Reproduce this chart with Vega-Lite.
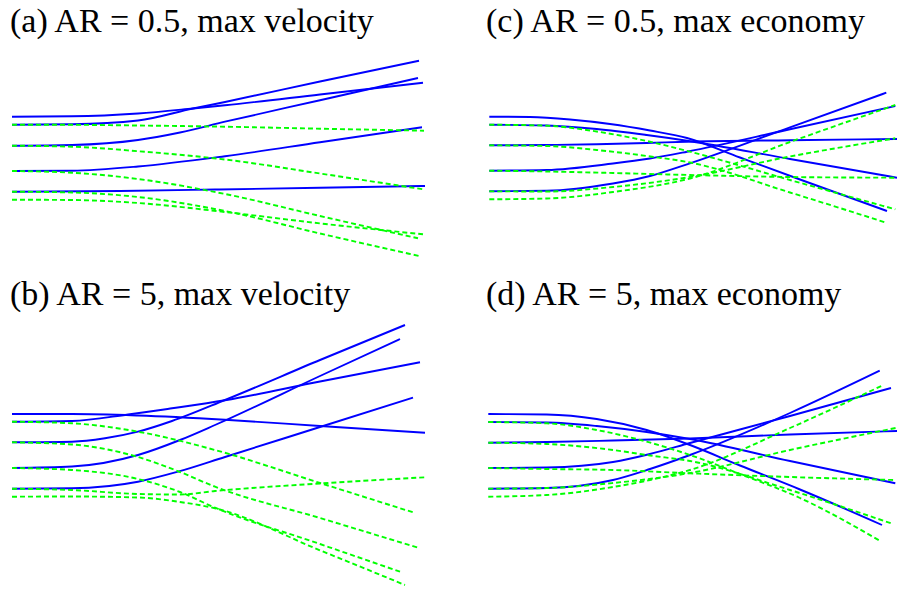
{
"$schema": "https://vega.github.io/schema/vega-lite/v6.json",
"padding": {"left": 8, "top": 5, "right": 0, "bottom": 0},
"background": "white",
"config": {"view": {"stroke": null}, "title": {"font": "Liberation Serif", "fontSize": 34, "fontWeight": "normal", "anchor": "start", "color": "black", "offset": 6, "dx": 2}},
"datasets": {"pts": [
{"p":"a","k":"b","s":"1","x":12,"y":116.7},{"p":"a","k":"b","s":"1","x":72,"y":116.3},{"p":"a","k":"b","s":"1","x":138,"y":113.5},{"p":"a","k":"b","s":"1","x":193,"y":108.5},{"p":"a","k":"b","s":"1","x":225,"y":105.3},{"p":"a","k":"b","s":"1","x":320,"y":94.5},{"p":"a","k":"b","s":"1","x":423,"y":82.7},
{"p":"a","k":"b","s":"2","x":12,"y":124.7},{"p":"a","k":"b","s":"2","x":72,"y":124.3},{"p":"a","k":"b","s":"2","x":138,"y":120.5},{"p":"a","k":"b","s":"2","x":193,"y":108.5},{"p":"a","k":"b","s":"2","x":225,"y":102},{"p":"a","k":"b","s":"2","x":320,"y":81.5},{"p":"a","k":"b","s":"2","x":419,"y":60.7},
{"p":"a","k":"b","s":"3","x":12,"y":145.7},{"p":"a","k":"b","s":"3","x":72,"y":145},{"p":"a","k":"b","s":"3","x":138,"y":140},{"p":"a","k":"b","s":"3","x":180,"y":132.5},{"p":"a","k":"b","s":"3","x":225,"y":121.7},{"p":"a","k":"b","s":"3","x":320,"y":100.2},{"p":"a","k":"b","s":"3","x":418,"y":78},
{"p":"a","k":"b","s":"4","x":12,"y":171},{"p":"a","k":"b","s":"4","x":72,"y":170.7},{"p":"a","k":"b","s":"4","x":138,"y":166.5},{"p":"a","k":"b","s":"4","x":225,"y":156.2},{"p":"a","k":"b","s":"4","x":320,"y":142.3},{"p":"a","k":"b","s":"4","x":422,"y":127.3},
{"p":"a","k":"b","s":"5","x":12,"y":191.7},{"p":"a","k":"b","s":"5","x":120,"y":191},{"p":"a","k":"b","s":"5","x":215,"y":189.5},{"p":"a","k":"b","s":"5","x":320,"y":187.8},{"p":"a","k":"b","s":"5","x":425,"y":186},
{"p":"a","k":"g","s":"1","x":12,"y":124.7},{"p":"a","k":"g","s":"1","x":72,"y":124.8},{"p":"a","k":"g","s":"1","x":138,"y":125.5},{"p":"a","k":"g","s":"1","x":225,"y":126.7},{"p":"a","k":"g","s":"1","x":320,"y":128.7},{"p":"a","k":"g","s":"1","x":424,"y":130.7},
{"p":"a","k":"g","s":"2","x":12,"y":145.7},{"p":"a","k":"g","s":"2","x":72,"y":146.7},{"p":"a","k":"g","s":"2","x":138,"y":151.2},{"p":"a","k":"g","s":"2","x":225,"y":159.5},{"p":"a","k":"g","s":"2","x":320,"y":173.5},{"p":"a","k":"g","s":"2","x":423,"y":189.3},
{"p":"a","k":"g","s":"3","x":12,"y":171},{"p":"a","k":"g","s":"3","x":72,"y":172.7},{"p":"a","k":"g","s":"3","x":138,"y":179},{"p":"a","k":"g","s":"3","x":225,"y":194},{"p":"a","k":"g","s":"3","x":320,"y":216},{"p":"a","k":"g","s":"3","x":418,"y":238.3},
{"p":"a","k":"g","s":"4","x":12,"y":191.7},{"p":"a","k":"g","s":"4","x":72,"y":192.5},{"p":"a","k":"g","s":"4","x":138,"y":197},{"p":"a","k":"g","s":"4","x":225,"y":211},{"p":"a","k":"g","s":"4","x":320,"y":233.5},{"p":"a","k":"g","s":"4","x":419,"y":256},
{"p":"a","k":"g","s":"5","x":12,"y":199.7},{"p":"a","k":"g","s":"5","x":72,"y":200},{"p":"a","k":"g","s":"5","x":138,"y":203},{"p":"a","k":"g","s":"5","x":225,"y":212},{"p":"a","k":"g","s":"5","x":320,"y":223.4},{"p":"a","k":"g","s":"5","x":423,"y":234.3},
{"p":"b","k":"b","s":"1","x":12,"y":414},{"p":"b","k":"b","s":"1","x":72,"y":414},{"p":"b","k":"b","s":"1","x":138,"y":415.5},{"p":"b","k":"b","s":"1","x":225,"y":419.7},{"p":"b","k":"b","s":"1","x":320,"y":426},{"p":"b","k":"b","s":"1","x":425,"y":432.7},
{"p":"b","k":"b","s":"2","x":12,"y":421.7},{"p":"b","k":"b","s":"2","x":72,"y":421},{"p":"b","k":"b","s":"2","x":128,"y":414.5},{"p":"b","k":"b","s":"2","x":172,"y":408.3},{"p":"b","k":"b","s":"2","x":225,"y":400.3},{"p":"b","k":"b","s":"2","x":320,"y":381.5},{"p":"b","k":"b","s":"2","x":420,"y":362.3},
{"p":"b","k":"b","s":"3","x":12,"y":442.3},{"p":"b","k":"b","s":"3","x":72,"y":441.7},{"p":"b","k":"b","s":"3","x":105,"y":438.3},{"p":"b","k":"b","s":"3","x":138,"y":431.7},{"p":"b","k":"b","s":"3","x":172,"y":421},{"p":"b","k":"b","s":"3","x":225,"y":400},{"p":"b","k":"b","s":"3","x":320,"y":360},{"p":"b","k":"b","s":"3","x":405,"y":325},
{"p":"b","k":"b","s":"4","x":12,"y":468},{"p":"b","k":"b","s":"4","x":72,"y":466.5},{"p":"b","k":"b","s":"4","x":138,"y":455},{"p":"b","k":"b","s":"4","x":180,"y":440},{"p":"b","k":"b","s":"4","x":215,"y":425},{"p":"b","k":"b","s":"4","x":320,"y":376},{"p":"b","k":"b","s":"4","x":400,"y":339},
{"p":"b","k":"b","s":"5","x":12,"y":488.7},{"p":"b","k":"b","s":"5","x":72,"y":488.3},{"p":"b","k":"b","s":"5","x":138,"y":481.7},{"p":"b","k":"b","s":"5","x":178,"y":471.7},{"p":"b","k":"b","s":"5","x":225,"y":457},{"p":"b","k":"b","s":"5","x":320,"y":427},{"p":"b","k":"b","s":"5","x":413,"y":397.7},
{"p":"b","k":"g","s":"1","x":12,"y":421.7},{"p":"b","k":"g","s":"1","x":72,"y":423.3},{"p":"b","k":"g","s":"1","x":138,"y":431.7},{"p":"b","k":"g","s":"1","x":215,"y":450},{"p":"b","k":"g","s":"1","x":320,"y":483},{"p":"b","k":"g","s":"1","x":413,"y":512.3},
{"p":"b","k":"g","s":"2","x":12,"y":442.3},{"p":"b","k":"g","s":"2","x":72,"y":444.5},{"p":"b","k":"g","s":"2","x":138,"y":457},{"p":"b","k":"g","s":"2","x":180,"y":472},{"p":"b","k":"g","s":"2","x":215,"y":486.7},{"p":"b","k":"g","s":"2","x":320,"y":518},{"p":"b","k":"g","s":"2","x":420,"y":548.3},
{"p":"b","k":"g","s":"3","x":12,"y":468},{"p":"b","k":"g","s":"3","x":72,"y":470},{"p":"b","k":"g","s":"3","x":138,"y":479},{"p":"b","k":"g","s":"3","x":180,"y":492},{"p":"b","k":"g","s":"3","x":215,"y":507.7},{"p":"b","k":"g","s":"3","x":320,"y":544},{"p":"b","k":"g","s":"3","x":400,"y":571.7},
{"p":"b","k":"g","s":"4","x":12,"y":488.7},{"p":"b","k":"g","s":"4","x":72,"y":490},{"p":"b","k":"g","s":"4","x":138,"y":494},{"p":"b","k":"g","s":"4","x":180,"y":494.5},{"p":"b","k":"g","s":"4","x":215,"y":491},{"p":"b","k":"g","s":"4","x":320,"y":483.5},{"p":"b","k":"g","s":"4","x":425,"y":477.3},
{"p":"b","k":"g","s":"5","x":12,"y":496.7},{"p":"b","k":"g","s":"5","x":72,"y":496.5},{"p":"b","k":"g","s":"5","x":138,"y":497.5},{"p":"b","k":"g","s":"5","x":180,"y":502},{"p":"b","k":"g","s":"5","x":215,"y":508.3},{"p":"b","k":"g","s":"5","x":320,"y":550.3},{"p":"b","k":"g","s":"5","x":405,"y":585},
{"p":"c","k":"b","s":"1","x":489.3,"y":116.7},{"p":"c","k":"b","s":"1","x":530,"y":117},{"p":"c","k":"b","s":"1","x":570,"y":119.5},{"p":"c","k":"b","s":"1","x":610,"y":124},{"p":"c","k":"b","s":"1","x":650,"y":130.5},{"p":"c","k":"b","s":"1","x":687,"y":138},{"p":"c","k":"b","s":"1","x":740,"y":157.5},{"p":"c","k":"b","s":"1","x":800,"y":179.5},{"p":"c","k":"b","s":"1","x":887,"y":211},
{"p":"c","k":"b","s":"2","x":489.3,"y":124.7},{"p":"c","k":"b","s":"2","x":546.7,"y":125.5},{"p":"c","k":"b","s":"2","x":596.7,"y":129},{"p":"c","k":"b","s":"2","x":646.7,"y":135},{"p":"c","k":"b","s":"2","x":687,"y":140.7},{"p":"c","k":"b","s":"2","x":790,"y":159},{"p":"c","k":"b","s":"2","x":897,"y":177.7},
{"p":"c","k":"b","s":"3","x":489.3,"y":145.3},{"p":"c","k":"b","s":"3","x":546.7,"y":145},{"p":"c","k":"b","s":"3","x":596.7,"y":144.3},{"p":"c","k":"b","s":"3","x":646.7,"y":143},{"p":"c","k":"b","s":"3","x":687,"y":141.7},{"p":"c","k":"b","s":"3","x":790,"y":140.2},{"p":"c","k":"b","s":"3","x":897,"y":139},
{"p":"c","k":"b","s":"4","x":489.3,"y":170.7},{"p":"c","k":"b","s":"4","x":546.7,"y":170},{"p":"c","k":"b","s":"4","x":613,"y":163.5},{"p":"c","k":"b","s":"4","x":650,"y":158.5},{"p":"c","k":"b","s":"4","x":687,"y":151.7},{"p":"c","k":"b","s":"4","x":790,"y":129.2},{"p":"c","k":"b","s":"4","x":895.3,"y":106},
{"p":"c","k":"b","s":"5","x":489.3,"y":191.3},{"p":"c","k":"b","s":"5","x":546.7,"y":190.8},{"p":"c","k":"b","s":"5","x":613,"y":183.5},{"p":"c","k":"b","s":"5","x":650,"y":176},{"p":"c","k":"b","s":"5","x":687,"y":164.3},{"p":"c","k":"b","s":"5","x":790,"y":127.3},{"p":"c","k":"b","s":"5","x":886.3,"y":92.7},
{"p":"c","k":"g","s":"1","x":489.3,"y":124.7},{"p":"c","k":"g","s":"1","x":546.7,"y":125.7},{"p":"c","k":"g","s":"1","x":596.7,"y":131.5},{"p":"c","k":"g","s":"1","x":646.7,"y":141},{"p":"c","k":"g","s":"1","x":690,"y":151.7},{"p":"c","k":"g","s":"1","x":790,"y":180},{"p":"c","k":"g","s":"1","x":895.3,"y":209.3},
{"p":"c","k":"g","s":"2","x":489.3,"y":145.3},{"p":"c","k":"g","s":"2","x":546.7,"y":146},{"p":"c","k":"g","s":"2","x":596.7,"y":150},{"p":"c","k":"g","s":"2","x":646.7,"y":156},{"p":"c","k":"g","s":"2","x":690,"y":162.5},{"p":"c","k":"g","s":"2","x":790,"y":192.5},{"p":"c","k":"g","s":"2","x":886.3,"y":222.7},
{"p":"c","k":"g","s":"3","x":489.3,"y":170.7},{"p":"c","k":"g","s":"3","x":546.7,"y":171.5},{"p":"c","k":"g","s":"3","x":613,"y":173},{"p":"c","k":"g","s":"3","x":690,"y":175},{"p":"c","k":"g","s":"3","x":790,"y":177},{"p":"c","k":"g","s":"3","x":895.3,"y":177.7},
{"p":"c","k":"g","s":"4","x":489.3,"y":191.3},{"p":"c","k":"g","s":"4","x":546.7,"y":191.5},{"p":"c","k":"g","s":"4","x":613,"y":187},{"p":"c","k":"g","s":"4","x":690,"y":177},{"p":"c","k":"g","s":"4","x":790,"y":156.5},{"p":"c","k":"g","s":"4","x":895.3,"y":138.3},
{"p":"c","k":"g","s":"5","x":489.3,"y":199.3},{"p":"c","k":"g","s":"5","x":546.7,"y":198.5},{"p":"c","k":"g","s":"5","x":613,"y":192},{"p":"c","k":"g","s":"5","x":690,"y":178.5},{"p":"c","k":"g","s":"5","x":790,"y":142},{"p":"c","k":"g","s":"5","x":895.3,"y":105},
{"p":"d","k":"b","s":"1","x":488.3,"y":414},{"p":"d","k":"b","s":"1","x":546.7,"y":414.5},{"p":"d","k":"b","s":"1","x":596.7,"y":419},{"p":"d","k":"b","s":"1","x":646.7,"y":430},{"p":"d","k":"b","s":"1","x":690,"y":445},{"p":"d","k":"b","s":"1","x":740,"y":465.5},{"p":"d","k":"b","s":"1","x":800,"y":489.5},{"p":"d","k":"b","s":"1","x":882,"y":525},
{"p":"d","k":"b","s":"2","x":488.3,"y":422},{"p":"d","k":"b","s":"2","x":546.7,"y":422.5},{"p":"d","k":"b","s":"2","x":596.7,"y":426},{"p":"d","k":"b","s":"2","x":646.7,"y":432},{"p":"d","k":"b","s":"2","x":690,"y":439},{"p":"d","k":"b","s":"2","x":790,"y":461},{"p":"d","k":"b","s":"2","x":895.3,"y":483.3},
{"p":"d","k":"b","s":"3","x":488.3,"y":442.7},{"p":"d","k":"b","s":"3","x":546.7,"y":442},{"p":"d","k":"b","s":"3","x":613,"y":440.5},{"p":"d","k":"b","s":"3","x":690,"y":438.5},{"p":"d","k":"b","s":"3","x":790,"y":434.5},{"p":"d","k":"b","s":"3","x":897,"y":431},
{"p":"d","k":"b","s":"4","x":488.3,"y":468},{"p":"d","k":"b","s":"4","x":546.7,"y":467.5},{"p":"d","k":"b","s":"4","x":613,"y":462},{"p":"d","k":"b","s":"4","x":650,"y":454},{"p":"d","k":"b","s":"4","x":690,"y":443},{"p":"d","k":"b","s":"4","x":790,"y":416},{"p":"d","k":"b","s":"4","x":891,"y":388},
{"p":"d","k":"b","s":"5","x":488.3,"y":488.7},{"p":"d","k":"b","s":"5","x":546.7,"y":488},{"p":"d","k":"b","s":"5","x":613,"y":480},{"p":"d","k":"b","s":"5","x":650,"y":469},{"p":"d","k":"b","s":"5","x":690,"y":455},{"p":"d","k":"b","s":"5","x":790,"y":413},{"p":"d","k":"b","s":"5","x":879.7,"y":370.7},
{"p":"d","k":"g","s":"1","x":488.3,"y":422},{"p":"d","k":"g","s":"1","x":546.7,"y":423.3},{"p":"d","k":"g","s":"1","x":596.7,"y":430},{"p":"d","k":"g","s":"1","x":646.7,"y":441.7},{"p":"d","k":"g","s":"1","x":690,"y":455},{"p":"d","k":"g","s":"1","x":740,"y":474},{"p":"d","k":"g","s":"1","x":800,"y":498},{"p":"d","k":"g","s":"1","x":879.7,"y":540.7},
{"p":"d","k":"g","s":"2","x":488.3,"y":442.7},{"p":"d","k":"g","s":"2","x":546.7,"y":444},{"p":"d","k":"g","s":"2","x":613,"y":450},{"p":"d","k":"g","s":"2","x":650,"y":455.5},{"p":"d","k":"g","s":"2","x":690,"y":461},{"p":"d","k":"g","s":"2","x":790,"y":490},{"p":"d","k":"g","s":"2","x":891,"y":523.3},
{"p":"d","k":"g","s":"3","x":488.3,"y":468},{"p":"d","k":"g","s":"3","x":546.7,"y":469},{"p":"d","k":"g","s":"3","x":613,"y":470},{"p":"d","k":"g","s":"3","x":690,"y":473.3},{"p":"d","k":"g","s":"3","x":790,"y":477},{"p":"d","k":"g","s":"3","x":893.7,"y":480},
{"p":"d","k":"g","s":"4","x":488.3,"y":488.7},{"p":"d","k":"g","s":"4","x":546.7,"y":488},{"p":"d","k":"g","s":"4","x":613,"y":483},{"p":"d","k":"g","s":"4","x":690,"y":473},{"p":"d","k":"g","s":"4","x":790,"y":450},{"p":"d","k":"g","s":"4","x":897,"y":427.7},
{"p":"d","k":"g","s":"5","x":488.3,"y":496.7},{"p":"d","k":"g","s":"5","x":546.7,"y":495},{"p":"d","k":"g","s":"5","x":613,"y":487},{"p":"d","k":"g","s":"5","x":650,"y":480},{"p":"d","k":"g","s":"5","x":690,"y":470},{"p":"d","k":"g","s":"5","x":790,"y":428},{"p":"d","k":"g","s":"5","x":882,"y":385.7}
]},
"columns": 2,
"spacing": {"row": 13, "column": 52},
"concat": [
{"title": {"text": "(a) AR = 0.5, max velocity"}, "width": 424, "height": 220, "data": {"name": "pts"}, "transform": [{"filter": "datum.p == 'a'"}],
 "encoding": {"x": {"field": "x", "type": "quantitative", "scale": {"domain": [8, 432], "nice": false, "zero": false}, "axis": null}, "y": {"field": "y", "type": "quantitative", "scale": {"domain": [45, 265], "nice": false, "zero": false, "reverse": true}, "axis": null}, "detail": {"field": "s"}},
 "layer": [{"transform": [{"filter": "datum.k == 'b'"}], "mark": {"type": "line", "color": "#0000ff", "strokeWidth": 1.9, "interpolate": "monotone"}}, {"transform": [{"filter": "datum.k == 'g'"}], "mark": {"type": "line", "color": "#00ff00", "strokeWidth": 1.9, "strokeDash": [5, 3], "interpolate": "monotone"}}]},
{"title": {"text": "(c) AR = 0.5, max economy"}, "width": 413, "height": 220, "data": {"name": "pts"}, "transform": [{"filter": "datum.p == 'c'"}],
 "encoding": {"x": {"field": "x", "type": "quantitative", "scale": {"domain": [484, 897], "nice": false, "zero": false}, "axis": null}, "y": {"field": "y", "type": "quantitative", "scale": {"domain": [45, 265], "nice": false, "zero": false, "reverse": true}, "axis": null}, "detail": {"field": "s"}},
 "layer": [{"transform": [{"filter": "datum.k == 'b'"}], "mark": {"type": "line", "color": "#0000ff", "strokeWidth": 1.9, "interpolate": "monotone"}}, {"transform": [{"filter": "datum.k == 'g'"}], "mark": {"type": "line", "color": "#00ff00", "strokeWidth": 1.9, "strokeDash": [5, 3], "interpolate": "monotone"}}]},
{"title": {"text": "(b) AR = 5, max velocity"}, "width": 424, "height": 274, "data": {"name": "pts"}, "transform": [{"filter": "datum.p == 'b'"}],
 "encoding": {"x": {"field": "x", "type": "quantitative", "scale": {"domain": [8, 432], "nice": false, "zero": false}, "axis": null}, "y": {"field": "y", "type": "quantitative", "scale": {"domain": [318, 592], "nice": false, "zero": false, "reverse": true}, "axis": null}, "detail": {"field": "s"}},
 "layer": [{"transform": [{"filter": "datum.k == 'b'"}], "mark": {"type": "line", "color": "#0000ff", "strokeWidth": 1.9, "interpolate": "monotone"}}, {"transform": [{"filter": "datum.k == 'g'"}], "mark": {"type": "line", "color": "#00ff00", "strokeWidth": 1.9, "strokeDash": [5, 3], "interpolate": "monotone"}}]},
{"title": {"text": "(d) AR = 5, max economy"}, "width": 413, "height": 274, "data": {"name": "pts"}, "transform": [{"filter": "datum.p == 'd'"}],
 "encoding": {"x": {"field": "x", "type": "quantitative", "scale": {"domain": [484, 897], "nice": false, "zero": false}, "axis": null}, "y": {"field": "y", "type": "quantitative", "scale": {"domain": [318, 592], "nice": false, "zero": false, "reverse": true}, "axis": null}, "detail": {"field": "s"}},
 "layer": [{"transform": [{"filter": "datum.k == 'b'"}], "mark": {"type": "line", "color": "#0000ff", "strokeWidth": 1.9, "interpolate": "monotone"}}, {"transform": [{"filter": "datum.k == 'g'"}], "mark": {"type": "line", "color": "#00ff00", "strokeWidth": 1.9, "strokeDash": [5, 3], "interpolate": "monotone"}}]}
]
}
